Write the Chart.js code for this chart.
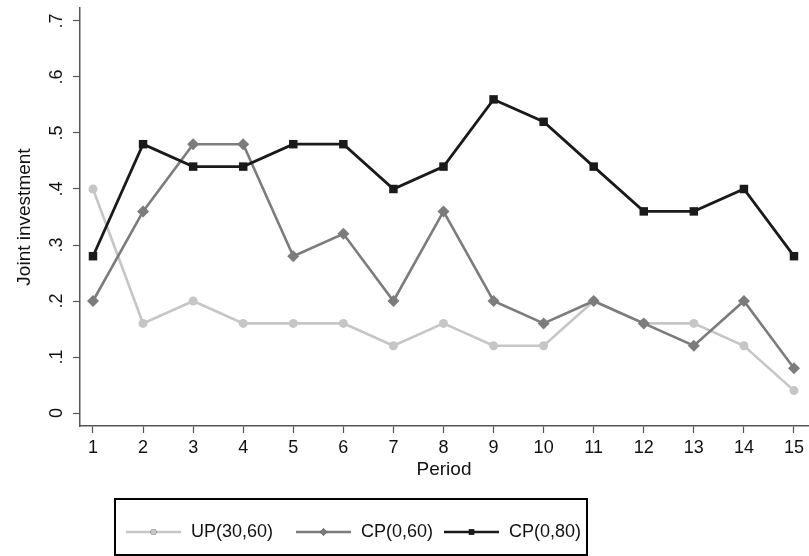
<!DOCTYPE html>
<html>
<head>
<meta charset="utf-8">
<title>Joint investment by period</title>
<script src="https://cdn.jsdelivr.net/npm/chart.js"></script>
<style>
html, body { margin: 0; padding: 0; background: #fff; }
#wrap { width: 809px; height: 556px; }
</style>
</head>
<body>
<div id="wrap"><canvas id="chart" width="809" height="556"></canvas></div>
<script>
// periods and the share of joint investment per treatment
const periods = [1, 2, 3, 4, 5, 6, 7, 8, 9, 10, 11, 12, 13, 14, 15];
const up3060 = [0.40, 0.16, 0.20, 0.16, 0.16, 0.16, 0.12, 0.16, 0.12, 0.12, 0.20, 0.16, 0.16, 0.12, 0.04];
const cp060 = [0.20, 0.36, 0.48, 0.48, 0.28, 0.32, 0.20, 0.36, 0.20, 0.16, 0.20, 0.16, 0.12, 0.20, 0.08];
const cp080 = [0.28, 0.48, 0.44, 0.44, 0.48, 0.48, 0.40, 0.44, 0.56, 0.52, 0.44, 0.36, 0.36, 0.40, 0.28];
const seriesNames = ['UP(30,60)', 'CP(0,60)', 'CP(0,80)'];
const yTicks = [0, 0.1, 0.2, 0.3, 0.4, 0.5, 0.6, 0.7];
const yTickLabels = ['0', '.1', '.2', '.3', '.4', '.5', '.6', '.7'];

const FONT = 'Liberation Sans, Arial, Helvetica, sans-serif';

function pts(values) {
  return periods.map((p, i) => ({ x: p, y: values[i] }));
}

// y tick labels and axis title are rotated, Stata style
const rotatedYLabels = {
  id: 'rotatedYLabels',
  afterDraw(chart) {
    const ctx = chart.ctx;
    const y = chart.scales.y;
    ctx.save();
    ctx.fillStyle = '#111';
    ctx.font = '18px ' + FONT;
    ctx.textAlign = 'center';
    ctx.textBaseline = 'alphabetic';
    y.ticks.forEach((t, i) => {
      const py = y.getPixelForValue(t.value);
      ctx.save();
      ctx.translate(y.right - 18, py);
      ctx.rotate(-Math.PI / 2);
      ctx.fillText(yTickLabels[i], 0, 0);
      ctx.restore();
    });
    ctx.font = '19px ' + FONT;
    ctx.translate(30, (chart.chartArea.top + chart.chartArea.bottom) / 2);
    ctx.rotate(-Math.PI / 2);
    ctx.fillText('Joint investment', 0, 0);
    ctx.restore();
  }
};

// boxed legend under the plot: line segment + marker + name
const boxLegend = {
  id: 'boxLegend',
  afterDraw(chart) {
    const ctx = chart.ctx;
    const box = { left: 115, top: 499, right: 587, bottom: 555 };
    const starts = [126, 296, 444];
    const segLen = 55;
    const midY = 532;
    ctx.save();
    ctx.strokeStyle = '#000';
    ctx.lineWidth = 2;
    ctx.strokeRect(box.left, box.top, box.right - box.left, box.bottom - box.top);
    chart.data.datasets.forEach((ds, i) => {
      const x0 = starts[i];
      ctx.strokeStyle = ds.borderColor;
      ctx.lineWidth = 2.5;
      ctx.beginPath();
      ctx.moveTo(x0, midY);
      ctx.lineTo(x0 + segLen, midY);
      ctx.stroke();
      Chart.helpers.drawPoint(ctx, {
        pointStyle: ds.pointStyle,
        radius: ds.pointStyle === 'circle' ? 3 : 3.8,
        borderWidth: 0
      }, x0 + segLen / 2, midY);
      ctx.fillStyle = ds.pointBackgroundColor;
      ctx.fill();
      ctx.fillStyle = '#111';
      ctx.font = '18px ' + FONT;
      ctx.textAlign = 'left';
      ctx.textBaseline = 'middle';
      ctx.fillText(seriesNames[i], x0 + segLen + 10, midY);
    });
    ctx.restore();
  }
};

const lightGray = '#c6c6c6';
const midGray = '#7c7c7c';
const black = '#1a1a1a';

new Chart(document.getElementById('chart'), {
  type: 'line',
  data: {
    datasets: [
      {
        label: seriesNames[0], data: pts(up3060), order: 3,
        borderColor: lightGray, borderWidth: 2.6,
        pointStyle: 'circle', pointRadius: 4.5, pointBorderWidth: 0,
        pointBackgroundColor: lightGray
      },
      {
        label: seriesNames[1], data: pts(cp060), order: 2,
        borderColor: midGray, borderWidth: 2.6,
        pointStyle: 'rectRot', pointRadius: 6, pointBorderWidth: 0,
        pointBackgroundColor: midGray
      },
      {
        label: seriesNames[2], data: pts(cp080), order: 1,
        borderColor: black, borderWidth: 2.8,
        pointStyle: 'rect', pointRadius: 6, pointBorderWidth: 0,
        pointBackgroundColor: black
      }
    ]
  },
  options: {
    responsive: false,
    animation: false,
    events: [],
    layout: { autoPadding: false, padding: { left: 0, right: 1, top: 8, bottom: 75 } },
    plugins: { legend: { display: false }, tooltip: { enabled: false } },
    scales: {
      x: {
        type: 'linear',
        min: 0.7404,
        max: 15.28,
        afterBuildTicks: s => { s.ticks = periods.map(v => ({ value: v })); },
        afterFit: s => { s.height = 55; s.paddingLeft = 0; s.paddingRight = 0; },
        grid: { drawOnChartArea: false, drawTicks: true, tickLength: 7, color: '#555', tickWidth: 1.2 },
        border: { display: true, color: '#555', width: 1.5 },
        ticks: { color: '#111', font: { family: FONT, size: 18 }, padding: 4, maxRotation: 0, autoSkip: false },
        title: { display: true, text: 'Period', color: '#111', font: { family: FONT, size: 19 }, padding: 0 }
      },
      y: {
        type: 'linear',
        min: -0.0232,
        max: 0.7232,
        afterBuildTicks: s => { s.ticks = yTicks.map(v => ({ value: v })); },
        afterFit: s => { s.width = 80; s.paddingTop = 0; s.paddingBottom = 0; },
        grid: { drawOnChartArea: false, drawTicks: true, tickLength: 7, color: '#555', tickWidth: 1.2 },
        border: { display: true, color: '#555', width: 1.5 },
        ticks: { display: false }
      }
    }
  },
  plugins: [rotatedYLabels, boxLegend]
});
</script>
</body>
</html>
